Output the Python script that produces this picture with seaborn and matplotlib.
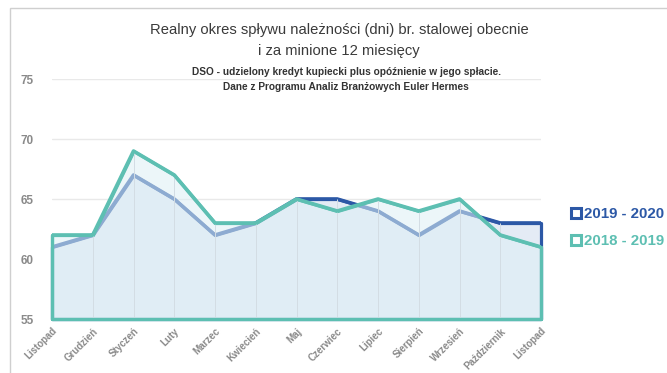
import matplotlib
matplotlib.use("Agg")
import matplotlib.pyplot as plt
import seaborn as sns
import pandas as pd
from matplotlib.lines import Line2D
from matplotlib.patches import Rectangle

months = ["Listopad", "Grudzień", "Styczeń", "Luty", "Marzec", "Kwiecień", "Maj",
          "Czerwiec", "Lipiec", "Sierpień", "Wrzesień", "Październik", "Listopad"]
s_2019_2020 = [61, 62, 67, 65, 62, 63, 65, 65, 64, 62, 64, 63, 63]
s_2018_2019 = [62, 62, 69, 67, 63, 63, 65, 64, 65, 64, 65, 62, 61]
y_ticks = [55, 60, 65, 70, 75]
labels = ["2019 - 2020", "2018 - 2019"]

BLUE = "#2c58a6"
TEAL = "#5dbfb2"

sns.set_theme(style="white")
plt.rcParams['font.family'] = ['Liberation Sans', 'DejaVu Sans']

fig = plt.figure(figsize=(6.67, 3.73), dpi=100)
ax = fig.add_axes([52/667, 1-319/373, (541-52)/667, (319-79)/373])

x = list(range(len(months)))
df = pd.DataFrame({"x": x, "a": s_2019_2020, "b": s_2018_2019})

# horizontal grid
for yv in y_ticks[1:]:
    ax.axhline(yv, color="#e9e9e9", lw=1, zorder=0)

# 2019-2020 area
ax.fill_between(df["x"], 55, df["a"], facecolor="#e4ebf5", edgecolor=BLUE,
                linewidth=2.3, zorder=2, clip_on=False)
sns.lineplot(data=df, x="x", y="a", color=BLUE, lw=2.6, ax=ax, zorder=3)
# 2018-2019 area (semi-transparent)
ax.fill_between(df["x"], 55, df["b"], facecolor=(0.87, 0.94, 0.96, 0.55),
                edgecolor=TEAL, linewidth=2.3, zorder=4, clip_on=False)
# faint vertical grid inside the areas
ax.vlines(df["x"], 55, df[["a", "b"]].max(axis=1), color="#d3dde4", lw=0.7, zorder=4.5)
sns.lineplot(data=df, x="x", y="b", color=TEAL, lw=2.6, ax=ax, zorder=5)
ax.plot([0, 12], [55, 55], color=TEAL, lw=2.3, zorder=5, clip_on=False)
ax.plot([0, 0], [55, s_2018_2019[0]], color=TEAL, lw=2.3, zorder=5, clip_on=False)
ax.plot([12, 12], [55, s_2018_2019[-1]], color=TEAL, lw=2.3, zorder=5, clip_on=False)

ax.set_xlim(0, 12)
ax.set_ylim(55, 75)
ax.set_yticks(y_ticks)
ax.set_yticklabels([str(v) for v in y_ticks], color="#8a8a8a", fontsize=8.5, fontweight="bold")
ax.set_xticks(x)
ax.set_xticklabels(months, rotation=45, ha="right", rotation_mode="anchor",
                   color="#8a8a8a", fontsize=7.0, fontweight="bold")
ax.tick_params(axis="y", pad=13, length=0)
ax.tick_params(axis="x", pad=5, length=0)
ax.set_xlabel("")
ax.set_ylabel("")
for sp in ax.spines.values():
    sp.set_visible(False)

# titles
fam = ["Liberation Sans Narrow", "Liberation Sans", "DejaVu Sans"]
fig.text(339/667, 1-30/373, "Realny okres spływu należności (dni) br. stalowej obecnie",
         ha="center", va="center", fontsize=10.6, color="#3a3a3a", family=fam)
fig.text(339/667, 1-51/373, "i za minione 12 miesięcy",
         ha="center", va="center", fontsize=10.6, color="#3a3a3a", family=fam)
fig.text(346/667, 1-72/373, "DSO - udzielony kredyt kupiecki plus opóźnienie w jego spłacie.",
         ha="center", va="center", fontsize=7.3, color="#333333", family=fam, fontweight="bold")
fig.text(346/667, 1-87/373, "Dane z Programu Analiz Branżowych Euler Hermes",
         ha="center", va="center", fontsize=7.3, color="#333333", family=fam, fontweight="bold")

# legend
handles = [Line2D([], [], marker="s", ls="none", markersize=7.5, markerfacecolor="white",
                  markeredgecolor=BLUE, markeredgewidth=2.2),
           Line2D([], [], marker="s", ls="none", markersize=7.5, markerfacecolor="white",
                  markeredgecolor=TEAL, markeredgewidth=2.2)]
leg = fig.legend(handles, labels, loc="upper left", bbox_to_anchor=(563/667, 1-201/373),
                 frameon=False, handletextpad=0.1, labelspacing=0.85, handlelength=0.9,
                 borderaxespad=0, prop={"weight": "bold", "size": 10.8})
for t, c in zip(leg.get_texts(), [BLUE, TEAL]):
    t.set_color(c)

# figure border
fig.patches.append(Rectangle((10/667, -0.1), 1.0, 1-8/373+0.1, transform=fig.transFigure,
                             fill=False, edgecolor="#cfcfcf", lw=1))

fig.savefig("out.png", dpi=100)
